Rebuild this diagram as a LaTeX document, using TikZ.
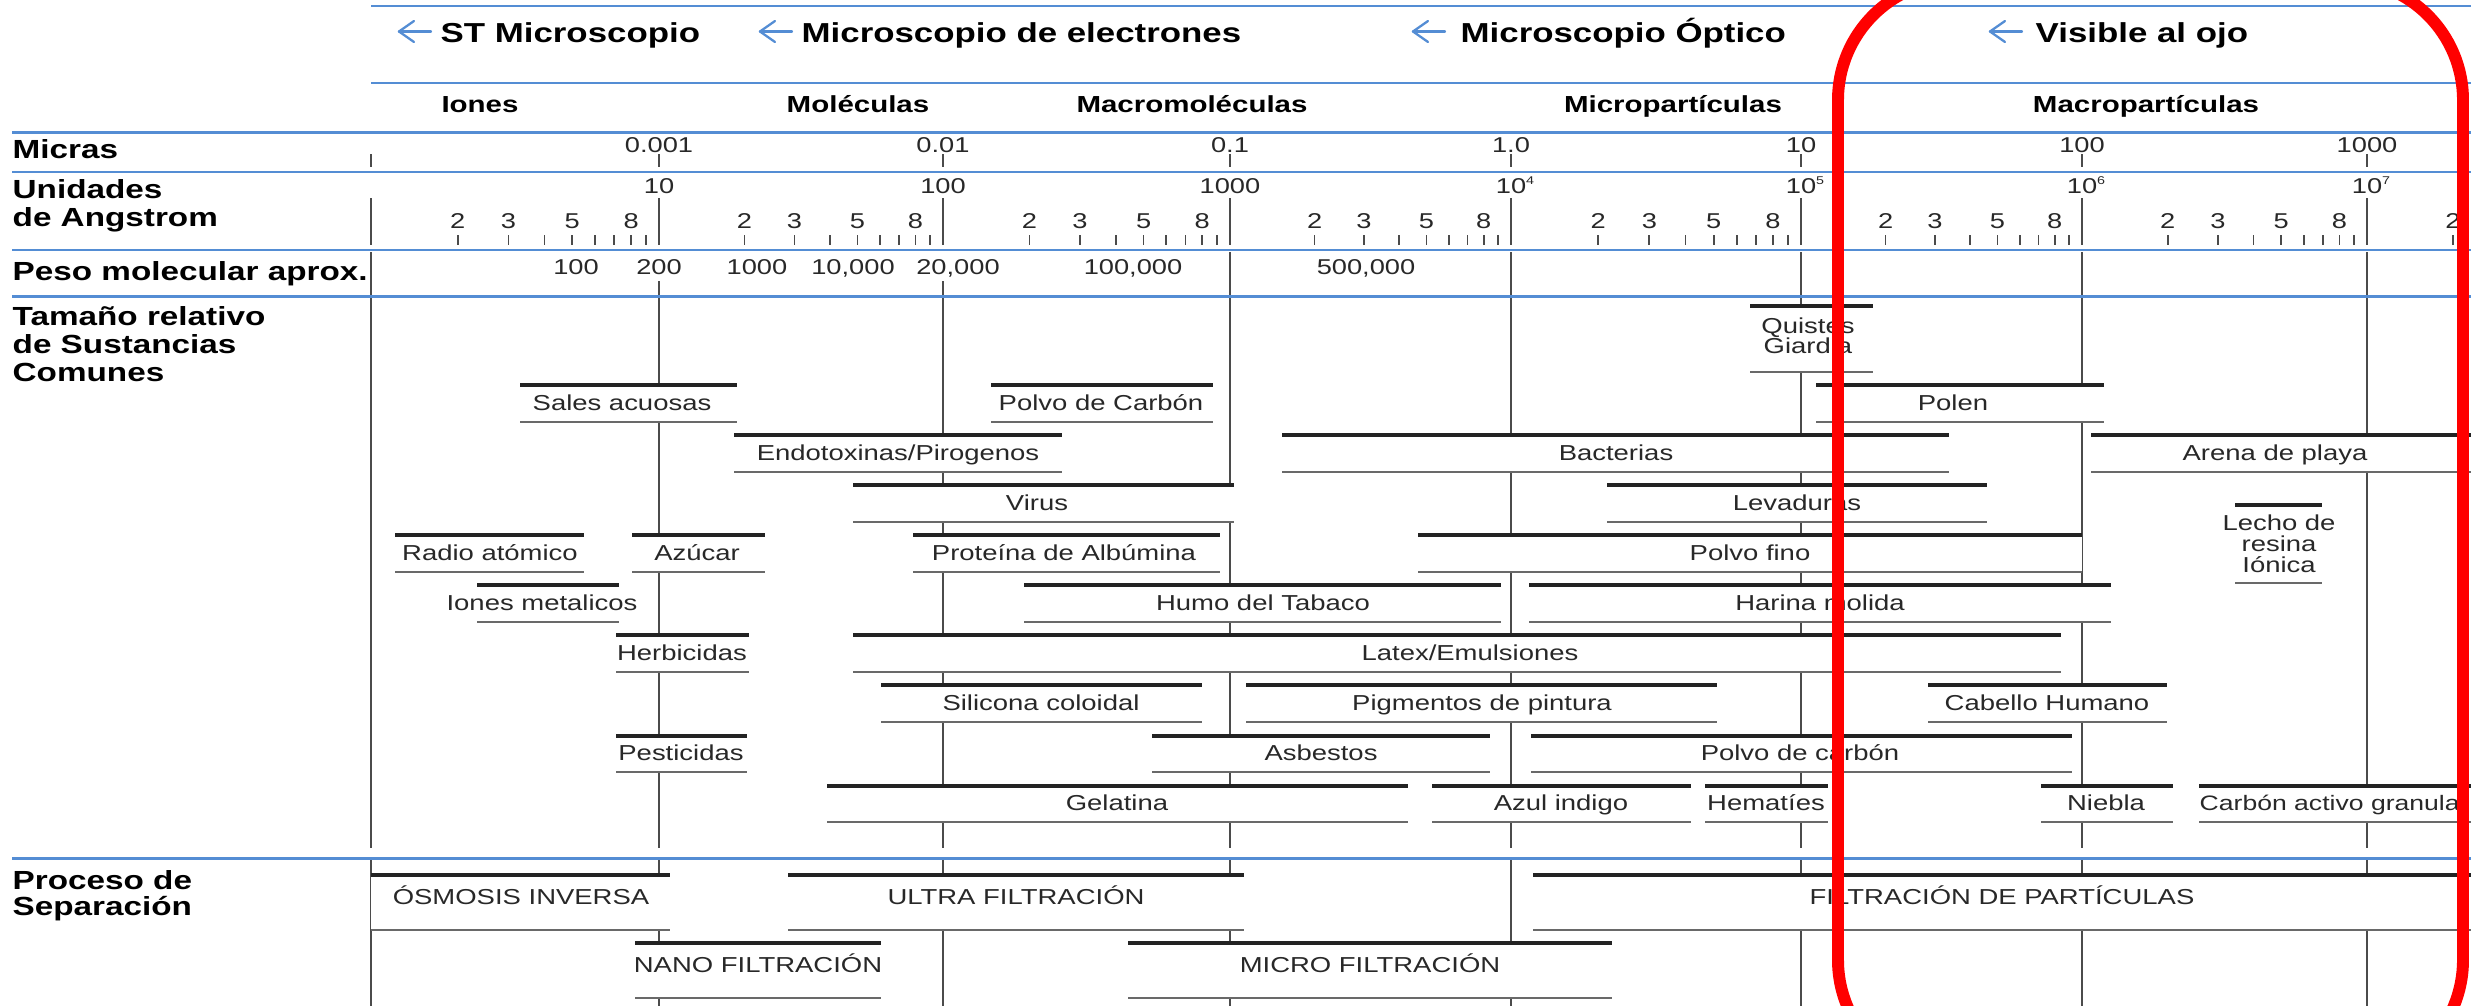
\documentclass[tikz,border=0pt]{standalone}
\usepackage{fontspec}
\setmainfont{Liberation Sans}[FakeStretch=1.27]
\definecolor{bl}{RGB}{84,141,212}
\definecolor{gridc}{RGB}{75,75,75}
\definecolor{txt}{RGB}{40,40,40}
\definecolor{botc}{RGB}{105,105,105}
\definecolor{topc}{RGB}{35,35,35}
\tikzset{
  lab/.style={font=\fontsize{6.15}{7.4}\selectfont, text=txt, inner sep=0pt, anchor=base},
  num/.style={font=\fontsize{6.1}{7.3}\selectfont, text=txt, inner sep=0pt, anchor=base},
  hdr/.style={font=\bfseries\fontsize{7.8}{9}\selectfont, text=black, inner sep=0pt, anchor=base west},
  cat/.style={font=\bfseries\fontsize{6.6}{8}\selectfont, text=black, inner sep=0pt, anchor=base},
  rowh/.style={font=\bfseries\fontsize{7.45}{9}\selectfont, text=black, inner sep=0pt, anchor=base west},
  blueline/.style={draw=bl, line width=0.85pt},
  gridline/.style={draw=gridc, line width=0.5pt},
  tickl/.style={draw=gridc, line width=0.5pt},
  topline/.style={draw=topc, line width=1.05pt},
  botline/.style={draw=botc, line width=0.6pt},
  harrow/.style={draw=bl, line width=0.65pt, line cap=round, line join=round},
  redbox/.style={draw=red, line width=3.4pt, rounded corners=1.2cm},
}
% name, x1, x2, ytop, ybot, textx, text
\newcommand\sbar[7]{%
  \fill[white] (#2,#4) rectangle (#3,#5);
  \draw[topline] (#2,#4) -- (#3,#4);
  \draw[botline] (#2,#5) -- (#3,#5);
  \node[lab] (#1) at (#6,{(#4+#5)/2+6.5}) {#7};
}
\newcommand\pbar[7]{%
  \fill[white] (#2,#4) rectangle (#3,#5);
  \draw[topline] (#2,#4) -- (#3,#4);
  \draw[botline] (#2,#5) -- (#3,#5);
  \node[lab] (#1) at (#6,{(#4+#5)/2+2}) {#7};
}
\newcommand\harr[1]{%
  \draw[harrow] (#1+32,31.5) -- (#1,31.5);
  \draw[harrow] (#1+15,21) -- (#1,31.5) -- (#1+15,42);
}
\begin{document}
\begin{tikzpicture}[x=0.01cm,y=-0.01cm]
\useasboundingbox (0,0) rectangle (2471,1006);
\clip (0,0) rectangle (2471,1006);
\fill[white] (0,0) rectangle (2471,1006);

% headers row 1
\harr{399}
\node[hdr] (h1) at (440,42) {ST Microscopio};
\harr{760}
\node[hdr] (h2) at (801,42) {Microscopio de electrones};
\harr{1413}
\node[hdr] (h3) at (1460,42) {Microscopio Óptico};
\harr{1990}
\node[hdr] (h4) at (2035,42) {Visible al ojo};

% headers row 2
\node[cat] (c1) at (480,112) {Iones};
\node[cat] (c2) at (858,112) {Moléculas};
\node[cat] (c3) at (1192,112) {Macromoléculas};
\node[cat] (c4) at (1673,112) {Micropartículas};
\node[cat] (c5) at (2146,112) {Macropartículas};

% row headers
\node[rowh] (r1) at (12,158) {Micras};
\node[rowh] (r2a) at (12,198) {Unidades};
\node[rowh] (r2b) at (12,226) {de Angstrom};
\node[rowh] (r3) at (12,280) {Peso molecular aprox.};
\node[rowh] (r4a) at (12,325) {Tamaño relativo};
\node[rowh] (r4b) at (12,353) {de Sustancias};
\node[rowh] (r4c) at (12,381) {Comunes};
\node[rowh] (r5a) at (12,889) {Proceso de};
\node[rowh] (r5b) at (12,915) {Separación};

% decade ticks and grid lines
\foreach \x in {371,659,943,1230,1511,1801,2082,2367}{
  \draw[tickl] (\x,154) -- (\x,167);
  \draw[tickl] (\x,198) -- (\x,245);
  \draw[gridline] (\x,858) -- (\x,1006);
}
\foreach \x in {371,1230,1511,1801,2082,2367} \draw[gridline] (\x,252) -- (\x,848);
\foreach \x in {659,943} \draw[gridline] (\x,281) -- (\x,848);

% minor ticks
\foreach \a/\b in {371/659,659/943,943/1230,1230/1511,1511/1801,1801/2082,2082/2367}{
  \foreach \n in {2,...,9}{
    \pgfmathsetmacro\xx{\a+(\b-\a)*log10(\n)}
    \draw[tickl] (\xx,235) -- (\xx,245);
  }
  \foreach \n in {2,3,5,8}{
    \pgfmathsetmacro\xx{\a+(\b-\a)*log10(\n)}
    \node[num] (mn\a-\n) at (\xx,228) {\n};
  }
}
\draw[tickl] (2453,235) -- (2453,245);
\node[num] (mnlast) at (2453,228) {2};

% micras labels
\foreach \x/\t [count=\i] in {659/0.001,943/0.01,1230/0.1,1511/1.0,1801/10,2082/100,2367/1000}
  \node[num] (mu\i) at (\x,152) {\t};
% angstrom labels
\foreach \x/\t [count=\i] in {659/10,943/100,1230/1000}
  \node[num] (an\i) at (\x,193) {\t};
\foreach \x/\e [count=\i] in {1511/4,1801/5,2082/6,2367/7}
  \node[num] (ae\i) at (\x,193) {10\rlap{\raisebox{2.4pt}{\fontsize{3.2}{3.5}\selectfont\e}}};

% peso molecular
\foreach \x/\t [count=\i] in {576/100,659/200,757/1000,853/{10,000},958/{20,000},1133/{100,000},1366/{500,000}}
  \node[num] (pm\i) at (\x,274) {\t};

% substance bars
\sbar{sales}{520}{737}{385}{422}{622}{Sales acuosas}
\sbar{pcarb}{991}{1213}{385}{422}{1101}{Polvo de Carbón}
\sbar{polen}{1816}{2104}{385}{422}{1953}{Polen}
\fill[white] (1750,306) rectangle (1873,372);
\draw[topline] (1750,306) -- (1873,306);
\draw[botline] (1750,372) -- (1873,372);
\node[lab] (quis) at (1808,333) {Quistes};
\node[lab] (giar) at (1808,353) {Giardia};

\sbar{endo}{734}{1062}{435}{472}{898}{Endotoxinas/Pirogenos}
\sbar{bact}{1282}{1949}{435}{472}{1616}{Bacterias}
\sbar{arena}{2091}{2490}{435}{472}{2275}{Arena de playa}

\sbar{virus}{853}{1234}{485}{522}{1037}{Virus}
\sbar{leva}{1607}{1987}{485}{522}{1797}{Levaduras}

\fill[white] (2235,505) rectangle (2322,583);
\draw[topline] (2235,505) -- (2322,505);
\draw[botline] (2235,583) -- (2322,583);
\node[lab] (lec1) at (2279,530) {Lecho de};
\node[lab] (lec2) at (2279,551) {resina};
\node[lab] (lec3) at (2279,572) {Iónica};

\sbar{radio}{395}{584}{535}{572}{490}{Radio atómico}
\sbar{azuc}{632}{765}{535}{572}{697}{Azúcar}
\sbar{prot}{913}{1220}{535}{572}{1064}{Proteína de Albúmina}
\sbar{pfino}{1418}{2082}{535}{572}{1750}{Polvo fino}

\sbar{iones}{477}{619}{585}{622}{542}{Iones metalicos}
\sbar{humo}{1024}{1501}{585}{622}{1263}{Humo del Tabaco}
\sbar{harina}{1529}{2111}{585}{622}{1820}{Harina molida}

\sbar{herb}{616}{749}{635}{672}{682}{Herbicidas}
\sbar{latex}{853}{2061}{635}{672}{1470}{Latex/Emulsiones}

\sbar{sili}{881}{1202}{685}{722}{1041}{Silicona coloidal}
\sbar{pigm}{1246}{1717}{685}{722}{1482}{Pigmentos de pintura}
\sbar{cab}{1928}{2167}{685}{722}{2047}{Cabello Humano}

\sbar{pest}{616}{747}{736}{772}{681}{Pesticidas}
\sbar{asb}{1152}{1490}{736}{772}{1321}{Asbestos}
\sbar{pcarb2}{1531}{2072}{736}{772}{1800}{Polvo de carbón}

\sbar{gel}{827}{1408}{786}{822}{1117}{Gelatina}
\sbar{azul}{1432}{1691}{786}{822}{1561}{Azul indigo}
\sbar{hema}{1705}{1828}{786}{822}{1766}{Hematíes}
\sbar{nieb}{2041}{2173}{786}{822}{2106}{Niebla}
\fill[white] (2199,786) rectangle (2490,822);
\draw[topline] (2199,786) -- (2490,786);
\draw[botline] (2199,822) -- (2490,822);
\node[lab, anchor=base west, font=\fontsize{5.95}{7.2}\selectfont] (carbact) at (2199,810.5) {Carbón activo granular};

% separation processes
\pbar{osm}{371}{670}{875}{930}{521}{ÓSMOSIS INVERSA}
\pbar{ultra}{788}{1244}{875}{930}{1016}{ULTRA FILTRACIÓN}
\pbar{part}{1533}{2490}{875}{930}{2002}{FILTRACIÓN DE PARTÍCULAS}
\pbar{nano}{635}{881}{943}{998}{758}{NANO FILTRACIÓN}
\pbar{micro}{1128}{1612}{943}{998}{1370}{MICRO FILTRACIÓN}

% blue rules
\draw[blueline] (371,6) -- (2471,6);
\draw[blueline] (371,83) -- (2471,83);
\draw[blueline] (12,132.5) -- (2471,132.5);
\draw[blueline] (12,172) -- (2471,172);
\draw[blueline] (12,250) -- (2471,250);
\draw[blueline] (12,296.5) -- (2471,296.5);
\draw[blueline] (12,858.5) -- (2471,858.5);

% red annotation
\draw[redbox] (1838,-20) rectangle (2463,1080);
\end{tikzpicture}
\end{document}
